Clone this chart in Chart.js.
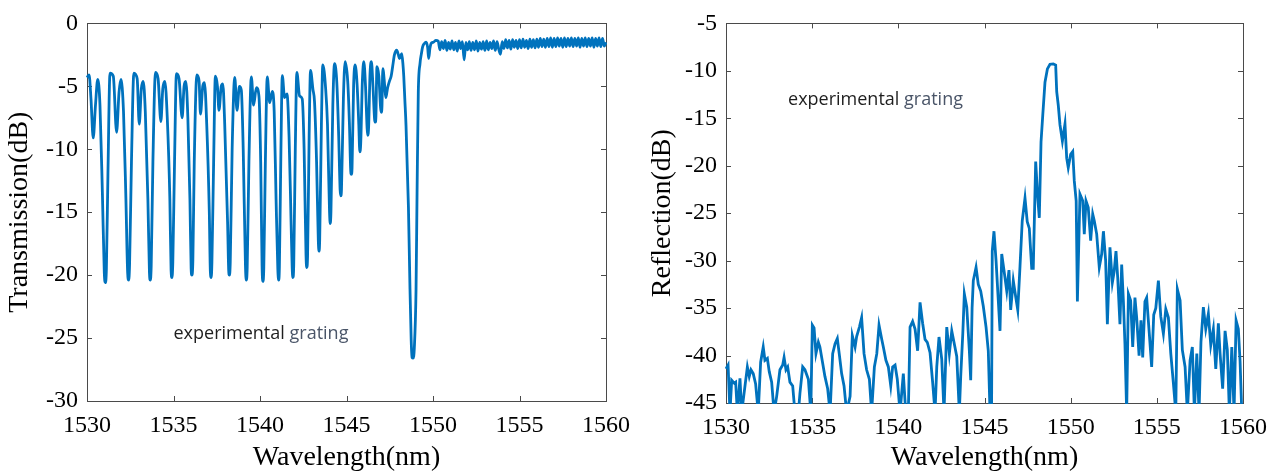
<!DOCTYPE html>
<html>
<head>
<meta charset="utf-8">
<title>Grating transmission / reflection</title>
<script src="https://cdn.jsdelivr.net/npm/chart.js@4.4.1/dist/chart.umd.min.js"></script>
<style>
  body { margin: 0; background: #fff; }
  #wrap { position: relative; width: 1279px; height: 475px; }
  canvas { position: absolute; top: 0; }
  #trans { left: 0; }
  #refl { left: 640px; }
</style>
</head>
<body>
<div id="wrap">
  <canvas id="trans" width="640" height="475"></canvas>
  <canvas id="refl" width="639" height="475"></canvas>
</div>
<script>
'use strict';

// tick labels
const wlTicks = [1530, 1535, 1540, 1545, 1550, 1555, 1560];
const transTicks = [0, -5, -10, -15, -20, -25, -30];
const reflTicks = [-5, -10, -15, -20, -25, -30, -35, -40, -45];

// transmission spectrum (nm, dB)
const transWl = [
  1530.00, 1530.12, 1530.23, 1530.36, 1530.49, 1530.62, 1530.75, 1530.89, 1531.00, 1531.06, 1531.12, 1531.21,
  1531.33, 1531.52, 1531.71, 1531.85, 1531.96, 1532.11, 1532.25, 1532.35, 1532.41, 1532.46, 1532.57,
  1532.71, 1532.90, 1533.02, 1533.14, 1533.25, 1533.37, 1533.52, 1533.61, 1533.66, 1533.71, 1533.81,
  1533.96, 1534.11, 1534.27, 1534.38, 1534.50, 1534.64, 1534.79, 1534.86, 1534.91, 1534.96, 1535.06,
  1535.17, 1535.32, 1535.50, 1535.61, 1535.71, 1535.83, 1535.95, 1536.02, 1536.06, 1536.12, 1536.20,
  1536.35, 1536.48, 1536.56, 1536.69, 1536.79, 1536.92, 1537.07, 1537.13, 1537.18, 1537.22, 1537.32,
  1537.42, 1537.54, 1537.63, 1537.76, 1537.85, 1537.96, 1538.13, 1538.19, 1538.23, 1538.28, 1538.39,
  1538.54, 1538.67, 1538.81, 1538.92, 1539.03, 1539.16, 1539.21, 1539.26, 1539.36,
  1539.50, 1539.63, 1539.79, 1539.94, 1540.04, 1540.12, 1540.17, 1540.22, 1540.31,
  1540.42, 1540.56, 1540.71, 1540.82, 1540.93, 1541.03, 1541.08, 1541.12, 1541.21,
  1541.29, 1541.42, 1541.56, 1541.68, 1541.80, 1541.86, 1541.90, 1541.95, 1542.04,
  1542.13, 1542.29, 1542.44, 1542.55, 1542.66, 1542.70, 1542.75, 1542.84,
  1542.92, 1543.06, 1543.15, 1543.27, 1543.37, 1543.41, 1543.45, 1543.55,
  1543.63, 1543.79, 1543.90, 1544.02, 1544.06, 1544.10, 1544.21,
  1544.31, 1544.44, 1544.55, 1544.63, 1544.67, 1544.71, 1544.82,
  1544.92, 1545.07, 1545.17, 1545.24, 1545.28, 1545.32, 1545.41,
  1545.50, 1545.61, 1545.71, 1545.77, 1545.82, 1545.92,
  1546.00, 1546.10, 1546.19, 1546.23, 1546.28, 1546.36,
  1546.44, 1546.53, 1546.63, 1546.67, 1546.70, 1546.76, 1546.87, 1546.97, 1547.01, 1547.05,
  1547.10, 1547.21, 1547.27, 1547.32, 1547.38, 1547.48, 1547.58, 1547.67, 1547.77, 1547.90,
  1548.00, 1548.06, 1548.19, 1548.26, 1548.31, 1548.37, 1548.44, 1548.58, 1548.67, 1548.74,
  1548.79, 1548.85, 1548.92, 1549.02, 1549.08, 1549.15, 1549.25, 1549.33, 1549.40, 1549.50,
  1549.60, 1549.69, 1549.75, 1549.82, 1549.89, 1550.02, 1550.17,
  1550.3, 1550.4, 1550.5, 1550.6, 1550.7, 1550.8, 1550.9, 1551.0, 1551.1, 1551.2,
  1551.3, 1551.4, 1551.5, 1551.6, 1551.7, 1551.8, 1551.9, 1552.0,
  1552.1, 1552.2, 1552.3, 1552.4, 1552.5, 1552.6, 1552.7, 1552.8, 1552.9, 1553.0,
  1553.1, 1553.2, 1553.3, 1553.4, 1553.5, 1553.6, 1553.7, 1553.8, 1553.9, 1554.0,
  1554.1, 1554.2, 1554.3, 1554.4, 1554.5, 1554.6, 1554.7, 1554.8, 1554.9, 1555.0,
  1555.1, 1555.2, 1555.3, 1555.4, 1555.5, 1555.6, 1555.7, 1555.8, 1555.9, 1556.0,
  1556.1, 1556.2, 1556.3, 1556.4, 1556.5, 1556.6, 1556.7, 1556.8, 1556.9, 1557.0,
  1557.1, 1557.2, 1557.3, 1557.4, 1557.5, 1557.6, 1557.7, 1557.8, 1557.9, 1558.0,
  1558.1, 1558.2, 1558.3, 1558.4, 1558.5, 1558.6, 1558.7, 1558.8, 1558.9, 1559.0,
  1559.1, 1559.2, 1559.3, 1559.4, 1559.5, 1559.6, 1559.7, 1559.8, 1559.9, 1560.0
];
const transDb = [
  -4.3, -4.1, -6.0, -9.1, -6.5, -4.45, -6.5, -13.5, -19.8, -20.6, -19.5, -12,
  -3.95, -4.2, -8.65, -5.5, -4.45, -7, -14, -19.8, -20.4, -19.2, -11,
  -3.95, -4.4, -8.0, -5.2, -4.6, -7, -14, -19.8, -20.4, -19.3, -11,
  -3.9, -4.4, -7.8, -5.2, -4.6, -7.5, -14, -19.6, -20.2, -19, -11,
  -4.0, -4.4, -7.5, -5.0, -4.6, -7.5, -14, -19.5, -20.0, -18.8, -11,
  -4.1, -4.6, -7.2, -5.0, -4.7, -8, -15, -19.7, -20.2, -19, -11,
  -4.2, -5.0, -6.9, -5.0, -4.8, -8, -16, -19.6, -20.0, -19, -10,
  -4.3, -6.9, -5.0, -5.3, -10, -19.3, -20.4, -19.4, -11,
  -4.25, -6.5, -5.1, -5.8, -11, -19.3, -20.5, -19.4, -11,
  -4.25, -6.3, -5.4, -7, -14, -19.5, -20.4, -19.4, -10,
  -4.15, -5.9, -5.6, -9, -16, -19.4, -20.2, -19.2, -10,
  -3.9, -5.77, -6.0, -10, -18.4, -19.4, -18.5, -9,
  -3.74, -5.25, -6.2, -11, -17.2, -18.1, -17.2, -8,
  -3.3, -5.1, -8, -15, -15.9, -15, -6.5,
  -3.2, -4.7, -9, -13.2, -13.7, -13.2, -6,
  -3.04, -4.6, -8, -11.6, -12.0, -11.5, -5,
  -3.3, -4.8, -8, -10.2, -9.6, -4.5,
  -3.04, -5, -8.3, -8.9, -8.2, -4,
  -3.04, -5, -7.7, -7.85, -7.4, -3.43, -4.2, -6.7, -7.07, -6.6,
  -3.6, -5, -5.9, -5.6, -5.1, -4.6, -4.2, -3.4, -2.5, -2.13,
  -2.5, -2.8, -2.4, -3.2, -4.2, -6.0, -8.1, -14.6, -21.1, -25.2,
  -26.55, -26.6, -25.8, -21.1, -13.3, -5.5, -3.17, -2.4, -1.87, -1.6,
  -1.48, -1.9, -2.78, -2.0, -1.6, -1.5, -1.35,
  -1.4, -2.1, -1.45, -2.0, -1.35, -2.15, -1.5, -2.05, -1.4, -2.1,
  -1.5, -2.2, -1.4, -2.0, -1.45, -2.9, -1.5, -2.1,
  -1.45, -2.15, -1.5, -2.1, -1.4, -2.2, -1.5, -2.05, -1.45, -2.15,
  -1.4, -2.1, -1.5, -2.0, -1.4, -2.15, -1.45, -2.05, -2.45, -1.45,
  -2.0, -1.3, -1.95, -1.35, -2.05, -1.3, -1.9, -1.35, -2.0, -1.3,
  -1.95, -1.25, -1.9, -1.35, -2.0, -1.25, -1.9, -1.3, -1.95, -1.25,
  -1.9, -1.2, -1.85, -1.25, -1.9, -1.2, -1.85, -1.15, -1.9, -1.2,
  -1.85, -1.15, -1.8, -1.2, -1.9, -1.15, -1.85, -1.2, -1.8, -1.15,
  -1.85, -1.2, -1.8, -1.15, -1.9, -1.2, -1.8, -1.15, -1.85, -1.2,
  -1.8, -1.15, -1.9, -1.2, -1.8, -1.15, -1.85, -1.2, -1.8, -1.5
];

// reflection spectrum (nm, dB); values below -45 run off the axis
const reflWl = [
  1530.00, 1530.12, 1530.23, 1530.33, 1530.48, 1530.56, 1530.66, 1530.81, 1530.91, 1531.24,
  1531.35, 1531.45, 1531.58, 1531.72, 1531.87, 1532.01, 1532.16, 1532.26, 1532.40, 1532.51,
  1532.65, 1532.79, 1532.94, 1533.13, 1533.29, 1533.37, 1533.48, 1533.58, 1533.71, 1533.87,
  1534.00, 1534.20, 1534.29, 1534.45, 1534.58, 1534.78, 1534.92, 1535.01, 1535.11, 1535.22,
  1535.36, 1535.45, 1535.61, 1535.74, 1535.90, 1536.04, 1536.19, 1536.33, 1536.46, 1536.57,
  1536.71, 1536.85, 1537.00, 1537.20, 1537.33, 1537.49, 1537.58, 1537.74, 1537.87, 1538.01,
  1538.16, 1538.32, 1538.45, 1538.61, 1538.75, 1538.88, 1539.04, 1539.13, 1539.28, 1539.42,
  1539.56, 1539.67, 1539.81, 1539.94, 1540.10, 1540.29, 1540.43, 1540.58, 1540.68, 1540.83,
  1540.97, 1541.12, 1541.26, 1541.41, 1541.55, 1541.68, 1541.84, 1541.99, 1542.13, 1542.23,
  1542.36, 1542.52, 1542.65, 1542.81, 1542.96, 1543.10, 1543.23, 1543.39, 1543.54, 1543.62,
  1543.74, 1543.83, 1543.97, 1544.12, 1544.20, 1544.28, 1544.35, 1544.51, 1544.64, 1544.78,
  1544.93, 1545.09, 1545.22, 1545.32, 1545.41, 1545.45, 1545.55, 1545.67, 1545.80, 1545.90,
  1546.00, 1546.13, 1546.29, 1546.42, 1546.52, 1546.67, 1546.81, 1546.93, 1547.06, 1547.19,
  1547.35, 1547.48, 1547.60, 1547.74, 1547.83, 1547.97, 1548.09, 1548.18, 1548.28, 1548.38,
  1548.51, 1548.65, 1548.80, 1548.99, 1549.13, 1549.19, 1549.28, 1549.38, 1549.52, 1549.67,
  1549.77, 1549.86, 1550.00, 1550.12, 1550.21, 1550.32, 1550.39, 1550.54, 1550.70, 1550.79,
  1550.89, 1551.02, 1551.16, 1551.28, 1551.37, 1551.51, 1551.66, 1551.80, 1551.90, 1552.03,
  1552.13, 1552.28, 1552.42, 1552.52, 1552.63, 1552.73, 1552.86, 1552.96, 1553.06, 1553.15,
  1553.25, 1553.35, 1553.48, 1553.60, 1553.73, 1553.83, 1553.97, 1554.08, 1554.18, 1554.31,
  1554.41, 1554.56, 1554.70, 1554.82, 1554.94, 1555.09, 1555.23, 1555.38, 1555.52, 1555.67,
  1555.81, 1555.96, 1556.10, 1556.19, 1556.35, 1556.48, 1556.64, 1556.77, 1556.93, 1557.06,
  1557.18, 1557.32, 1557.45, 1557.56, 1557.70, 1557.84, 1557.99, 1558.13, 1558.28, 1558.42,
  1558.57, 1558.67, 1558.82, 1558.96, 1559.09, 1559.21, 1559.35, 1559.48, 1559.60, 1559.73,
  1559.83, 1559.93, 1560.00
];
const reflDb = [
  -41.4, -41.0, -46, -42.6, -42.9, -42.8, -46, -42.4, -46, -41.2,
  -42.2, -41.5, -41.9, -43.0, -46, -40.7, -39.1, -40.5, -40.3, -41.7,
  -42.8, -46, -44.3, -41.5, -41.0, -40.2, -41.5, -41.2, -42.8, -43.2,
  -46, -46, -44.0, -41.2, -41.5, -42.5, -46, -36.8, -37.1, -39.8,
  -38.6, -39.1, -40.8, -42.2, -43.5, -46, -39.8, -38.75, -38.2, -39.8,
  -41.9, -43.2, -46, -44.3, -37.9, -39.1, -38.0, -37.0, -36.0, -39.8,
  -41.5, -42.5, -46, -41.2, -39.8, -36.8, -38.3, -39.1, -40.5, -41.2,
  -43.2, -41.2, -41.0, -42.5, -46, -41.9, -46, -46, -37.0, -36.4,
  -37.2, -39.5, -34.4, -36.6, -38.3, -38.6, -39.7, -42.8, -46, -41.2,
  -38.05, -40.4, -46, -37.0, -39.8, -37.4, -38.6, -40.1, -46, -42.2,
  -37.7, -33.5, -34.9, -39.45, -42.6, -35.0, -32.1, -30.7, -32.5, -33.2,
  -34.8, -37.0, -39.5, -46, -46, -29.0, -26.9, -30.0, -34.2, -37.4,
  -29.3, -31.0, -33.2, -31.0, -35.2, -32.1, -33.8, -35.2, -30.6, -25.8,
  -23.4, -25.9, -26.6, -30.8, -30.8, -19.55, -23.4, -25.5, -17.5, -14.7,
  -11.2, -9.8, -9.3, -9.26, -9.4, -12.2, -13.6, -15.7, -17.4, -15.6,
  -19.2, -20.2, -18.8, -18.5, -21.6, -23.7, -34.3, -23.0, -23.7, -27.2,
  -23.7, -24.4, -27.9, -25.1, -25.8, -27.2, -30.7, -29.3, -26.9, -30.0,
  -36.7, -28.6, -32.3, -31.2, -29.0, -31.8, -36.7, -30.4, -34.3, -38.8,
  -46, -33.5, -34.2, -39.1, -33.9, -36.0, -40.0, -36.3, -40.2, -34.3,
  -33.9, -37.6, -41.2, -35.7, -35.0, -32.1, -35.9, -37.7, -35.1, -36.0,
  -39.8, -42.9, -46, -33.0, -34.2, -39.4, -41.2, -46, -40.5, -39.1,
  -46, -39.8, -46, -38.6, -34.9, -37.2, -35.6, -38.9, -37.2, -41.4,
  -36.6, -39.8, -43.5, -37.4, -39.4, -46, -39.1, -46, -36.3, -37.2,
  -40.6, -46, -46
];

const serif = 'Liberation Serif';

// MATLAB-like box with inward ticks on all four sides
const boxTicks = {
  id: 'boxTicks',
  beforeDatasetsDraw(chart) {
    const {ctx, chartArea: a, scales: {x, y}} = chart;
    const len = 5;
    ctx.save();
    ctx.strokeStyle = '#4a4a4a';
    ctx.lineWidth = 1;
    ctx.beginPath();
    x.ticks.forEach(t => {
      const px = Math.round(x.getPixelForValue(t.value)) + 0.5;
      ctx.moveTo(px, a.bottom); ctx.lineTo(px, a.bottom - len);
      ctx.moveTo(px, a.top); ctx.lineTo(px, a.top + len);
    });
    y.ticks.forEach(t => {
      const py = Math.round(y.getPixelForValue(t.value)) + 0.5;
      ctx.moveTo(a.left, py); ctx.lineTo(a.left + len, py);
      ctx.moveTo(a.right, py); ctx.lineTo(a.right - len, py);
    });
    ctx.stroke();
    ctx.strokeRect(Math.round(a.left) + 0.5, Math.round(a.top) + 0.5,
                   Math.round(a.right - a.left), Math.round(a.bottom - a.top));
    ctx.restore();
  }
};

// "experimental grating" label, two tones
function notePlugin(at) {
  return {
    id: 'note',
    afterDatasetsDraw(chart) {
      const {ctx, scales: {x, y}} = chart;
      const px = x.getPixelForValue(at.x);
      const py = y.getPixelForValue(at.y);
      ctx.save();
      ctx.font = '18px "Open Sans"';
      ctx.textBaseline = 'middle';
      ctx.fillStyle = '#1e1e1e';
      ctx.fillText('experimental ', px, py);
      const w = ctx.measureText('experimental ').width;
      ctx.fillStyle = '#4a5568';
      ctx.fillText('grating', px + w, py);
      ctx.restore();
    }
  };
}

function makeChart(id, wl, db, yTicks, yTitle, yMin, yMax, frame, noteAt, smooth) {
  const points = wl.map((v, i) => ({x: v, y: db[i]}));
  return new Chart(document.getElementById(id), {
    type: 'line',
    data: {
      datasets: [{
        data: points,
        borderColor: '#0072BD',
        borderWidth: 2.8,
        pointRadius: 0,
        tension: smooth ? 0.4 : 0,
        cubicInterpolationMode: smooth ? 'monotone' : 'default',
        clip: 1
      }]
    },
    options: {
      responsive: false,
      animation: false,
      events: [],
      layout: {padding: {top: frame.top, right: frame.right, left: 0, bottom: 0}},
      plugins: {legend: {display: false}, tooltip: {enabled: false}},
      scales: {
        x: {
          type: 'linear',
          min: 1530,
          max: 1560,
          grid: {display: false, drawTicks: false},
          border: {display: false},
          afterBuildTicks: s => { s.ticks = wlTicks.map(v => ({value: v})); },
          afterFit: s => { s.height = frame.xAxis; },
          ticks: {
            autoSkip: false,
            maxRotation: 0,
            padding: frame.xPad,
            color: '#000',
            font: {family: serif, size: 24},
            callback: v => String(v)
          },
          title: {
            display: true,
            text: 'Wavelength(nm)',
            color: '#000',
            font: {family: serif, size: 28},
            padding: {top: 0, bottom: frame.titleBottom}
          }
        },
        y: {
          type: 'linear',
          min: yMin,
          max: yMax,
          grid: {display: false, drawTicks: false},
          border: {display: false},
          afterBuildTicks: s => { s.ticks = yTicks.map(v => ({value: v})); },
          afterFit: s => { s.width = frame.left; },
          ticks: {
            padding: 9,
            color: '#000',
            font: {family: serif, size: 24},
            callback: v => String(v)
          },
          title: {
            display: true,
            text: yTitle,
            color: '#000',
            font: {family: serif, size: 28},
            padding: {top: frame.titleLeft, bottom: 0}
          }
        }
      }
    },
    plugins: [boxTicks, notePlugin(noteAt)]
  });
}

makeChart('trans', transWl, transDb, transTicks, 'Transmission(dB)', -30, 0,
  {left: 87, top: 16, right: 33, xAxis: 74, xPad: 10, titleBottom: 1, titleLeft: 3},
  {x: 1535.0, y: -24.7}, true);

makeChart('refl', reflWl, reflDb, reflTicks, 'Reflection(dB)', -45, -5,
  {left: 86, top: 21, right: 36, xAxis: 72, xPad: 10, titleBottom: 1, titleLeft: 6},
  {x: 1533.6, y: -13.1}, false);
</script>
</body>
</html>
